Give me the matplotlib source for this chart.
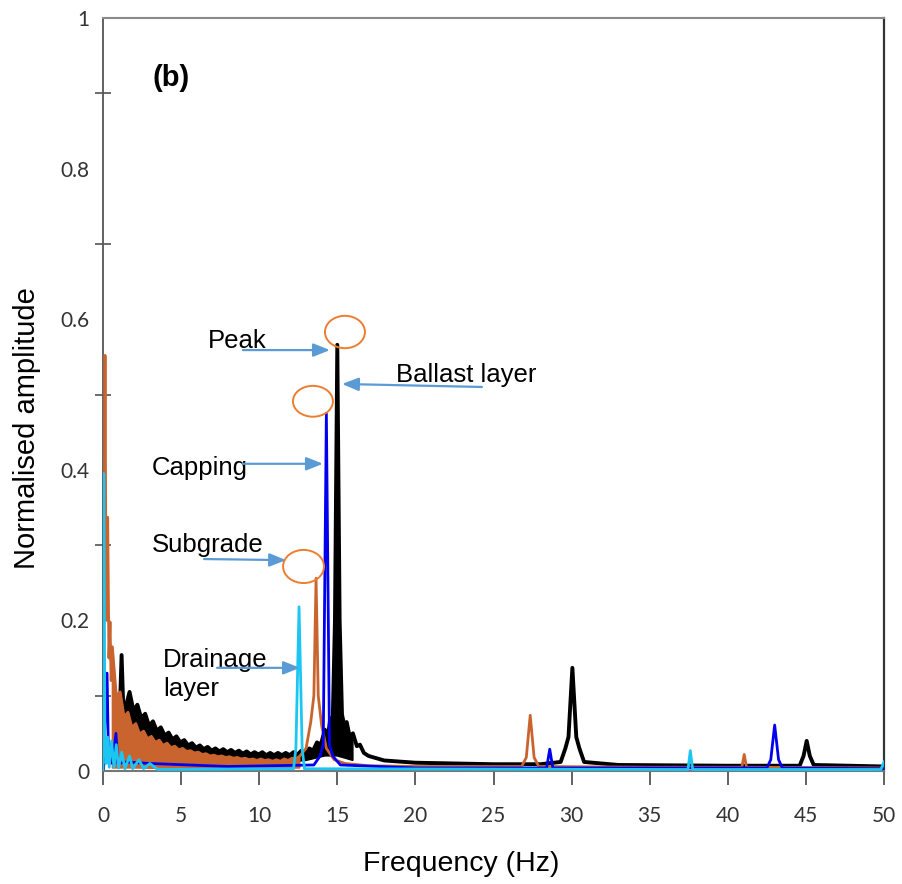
import numpy as np
import matplotlib
matplotlib.use('Agg')
import matplotlib.pyplot as plt
from matplotlib.patches import Ellipse

# ---------------- data ----------------
black_freq = [0.0, 0.03, 0.95, 1.05, 1.19, 1.32,
              1.45, 1.7, 1.95, 2.2, 2.45, 2.7, 2.95, 3.2, 3.45, 3.7, 3.95, 4.2, 4.45, 4.7,
              4.95, 5.2, 5.45, 5.7, 5.95, 6.2, 6.45, 6.7, 6.95, 7.2, 7.45, 7.7, 7.95, 8.2,
              8.45, 8.7, 8.95, 9.2, 9.45, 9.7, 9.95, 10.2, 10.45, 10.7, 10.95, 11.2, 11.45,
              11.7, 11.95, 12.2, 12.45, 12.7, 12.95, 13.2, 13.45, 13.7, 13.95, 14.2,
              14.4, 14.55, 14.7, 14.85, 15.0, 15.15, 15.3, 15.45, 15.6, 15.8, 16.0, 16.25,
              16.45, 16.7, 17.0, 18.0, 20.0, 25.0, 28.0, 29.3, 29.6, 29.8, 30.05, 30.3,
              30.5, 30.8, 33.0, 40.0, 44.6, 44.85, 45.05, 45.25, 45.5, 50.0]
black_amp = [0.0, 0.018, 0.018, 0.06, 0.154, 0.07,
             0.085, 0.105, 0.08, 0.088, 0.07, 0.076, 0.06, 0.066, 0.053, 0.058, 0.047, 0.051,
             0.042, 0.046, 0.038, 0.041, 0.034, 0.037, 0.031, 0.034, 0.029, 0.032, 0.027,
             0.030, 0.026, 0.029, 0.025, 0.028, 0.024, 0.027, 0.023, 0.026, 0.022, 0.025,
             0.022, 0.025, 0.021, 0.024, 0.021, 0.024, 0.021, 0.024, 0.021, 0.025, 0.022,
             0.027, 0.024, 0.030, 0.027, 0.038, 0.035, 0.055,
             0.045, 0.07, 0.06, 0.2, 0.566, 0.2, 0.075, 0.06, 0.065, 0.045, 0.05, 0.033,
             0.035, 0.024, 0.02, 0.014, 0.011, 0.009, 0.009, 0.012, 0.03, 0.045, 0.137,
             0.045, 0.03, 0.012, 0.008, 0.007, 0.007, 0.02, 0.04, 0.02, 0.008, 0.006]
black_floor_freq = [1.45, 2.0, 3.0, 4.0, 5.0, 6.0, 8.0, 10.0, 12.0, 13.0, 14.2, 15.0, 16.0]
black_floor_amp = [0.03, 0.022, 0.018, 0.016, 0.015, 0.014, 0.013, 0.012, 0.012, 0.014,
                   0.02, 0.02, 0.014]

orange_freq = [0.0, 0.08, 0.13, 0.2, 0.3, 0.38, 0.45, 0.52, 0.6,
               0.85, 1.1, 1.35, 1.6, 1.85, 2.1, 2.35, 2.6, 2.85, 3.1, 3.35, 3.6, 3.85, 4.1,
               4.35, 4.6, 4.85, 5.1, 5.35, 5.6, 5.85, 6.1, 6.35, 6.6, 6.85, 7.1, 7.35, 7.6,
               7.85, 8.1, 8.35, 8.6, 8.85, 9.1, 9.35, 9.6, 9.85, 10.1, 10.35, 10.6, 10.85,
               11.1, 11.35, 11.6, 11.85, 12.1, 12.35, 12.6,
               13.0, 13.3, 13.5, 13.64, 13.78, 14.0, 14.3, 14.8, 15.5, 17.0, 20.0, 26.8,
               27.1, 27.35, 27.6, 27.9, 35.0, 40.9, 41.05, 41.2, 50.0]
orange_amp = [0.0, 0.3, 0.552, 0.2, 0.337, 0.15, 0.198, 0.12, 0.165,
              0.1, 0.105, 0.072, 0.078, 0.058, 0.063, 0.049, 0.053, 0.043, 0.046, 0.038,
              0.041, 0.034, 0.037, 0.031, 0.033, 0.028, 0.030, 0.026, 0.027, 0.024, 0.025,
              0.022, 0.023, 0.020, 0.021, 0.019, 0.020, 0.018, 0.019, 0.017, 0.018, 0.016,
              0.017, 0.015, 0.016, 0.014, 0.016, 0.014, 0.015, 0.013, 0.015, 0.013, 0.016,
              0.014, 0.017, 0.016, 0.02,
              0.03, 0.065, 0.1, 0.256, 0.1, 0.06, 0.03, 0.015, 0.01, 0.007, 0.006, 0.006,
              0.018, 0.074, 0.018, 0.006, 0.005, 0.005, 0.022, 0.005, 0.004]
orange_floor_freq = [0.6, 2.0, 5.0, 10.0, 12.6]
orange_floor_amp = [0.004, 0.004, 0.003, 0.003, 0.004]

blue_freq = [0.0, 0.1, 0.26, 0.35, 0.6, 0.83, 0.95, 1.5, 3.0, 8.0, 13.5, 13.9, 14.1, 14.3,
             14.5, 14.7, 15.2, 20.0, 28.4, 28.6, 28.8, 42.5, 42.75, 43.0, 43.25, 43.5, 50.0]
blue_amp = [0.0, 0.05, 0.13, 0.02, 0.01, 0.05, 0.01, 0.012, 0.01, 0.006, 0.008, 0.02, 0.035,
            0.475, 0.035, 0.02, 0.008, 0.004, 0.004, 0.029, 0.004, 0.004, 0.015, 0.061,
            0.015, 0.004, 0.003]

cyan_freq = [0.0, 0.05, 0.12, 0.2, 0.3, 0.4, 0.55, 0.7, 0.85, 1.0, 1.2, 1.4, 1.7, 1.9, 2.3,
             2.6, 3.0, 3.5, 12.2, 12.35, 12.55, 12.75, 12.9, 37.45, 37.6, 37.75, 49.8, 50.0]
cyan_amp = [0.0, 0.395, 0.05, 0.01, 0.045, 0.005, 0.04, 0.005, 0.035, 0.004, 0.025, 0.003,
            0.02, 0.003, 0.015, 0.003, 0.01, 0.002, 0.003, 0.03, 0.218, 0.03, 0.003, 0.002,
            0.027, 0.002, 0.002, 0.012]

x_ticks = [0, 5, 10, 15, 20, 25, 30, 35, 40, 45, 50]
y_ticks = [0, 0.2, 0.4, 0.6, 0.8, 1.0]
y_tick_labels = ['0', '0.2', '0.4', '0.6', '0.8', '1']
y_minor = [0.1, 0.3, 0.5, 0.7, 0.9]

# ---------------- figure ----------------
BLACK = '#000000'
ORANGE = '#C9642F'
BLUE = '#0000EE'
CYAN = '#1CC6F2'
ARROW = '#5B9BD5'
RING = '#ED7D31'

fig = plt.figure(figsize=(9.02, 8.84), dpi=100)
ax = fig.add_axes([103 / 902, 1 - 771 / 884, (884 - 103) / 902, (771 - 18) / 884])


def band(ax, freq, amp, floor_f, floor_a, color, z):
    f = np.asarray(freq)
    a = np.asarray(amp)
    m = (f >= floor_f[0]) & (f <= floor_f[-1])
    xs = np.concatenate([f[m], np.asarray(floor_f)[::-1]])
    ys = np.concatenate([a[m], np.asarray(floor_a)[::-1]])
    ax.fill(xs, ys, color=color, lw=1.0, zorder=z)


band(ax, black_freq, black_amp, black_floor_freq, black_floor_amp, BLACK, 2)
ax.plot(black_freq, black_amp, color=BLACK, lw=2.8, zorder=2.1, solid_joinstyle='round')

band(ax, orange_freq, orange_amp, orange_floor_freq, orange_floor_amp, ORANGE, 3)
ax.plot(orange_freq, orange_amp, color=ORANGE, lw=2.0, zorder=3.1)

ax.plot(blue_freq, blue_amp, color=BLUE, lw=2.0, zorder=4)
ax.plot(cyan_freq, cyan_amp, color=CYAN, lw=2.0, zorder=5)

ax.set_xlim(0, 50)
ax.set_ylim(0, 1)

ax.set_xticks(x_ticks)
ax.set_xticklabels([str(t) for t in x_ticks])
ax.set_yticks(y_ticks)
ax.set_yticklabels(y_tick_labels)
ax.set_yticks(y_minor, minor=True)

for lab in ax.get_xticklabels() + ax.get_yticklabels():
    lab.set_fontfamily('Lato')
    lab.set_fontsize(15)
    lab.set_color('#333333')

ax.tick_params(axis='x', which='major', direction='out', length=10, width=1.3,
               color='#555555', pad=15)
ax.tick_params(axis='y', which='major', length=0, pad=10)
ax.tick_params(axis='y', which='minor', direction='inout', length=11, width=1.1,
               color='#444444')
ax.tick_params(axis='x', which='minor', length=0)

ax.spines['left'].set_color('#555555')
ax.spines['left'].set_linewidth(1.3)
ax.spines['bottom'].set_color('#777777')
ax.spines['bottom'].set_linewidth(1.5)
ax.spines['top'].set_color('#8A8A8A')
ax.spines['top'].set_linewidth(1.5)
ax.spines['right'].set_color('#333333')
ax.spines['right'].set_linewidth(1.6)

lab_font = 'Liberation Sans'
fig.text(461 / 902, 1 - 864 / 884, 'Frequency (Hz)', ha='center', va='center',
         fontsize=20.5, family=lab_font)
fig.text(27 / 902, 1 - 428 / 884, 'Normalised amplitude', ha='center', va='center',
         rotation=90, fontsize=21, family=lab_font)

ax.text(3.14, 0.92, '(b)', fontsize=21, fontweight='bold', family=lab_font,
        ha='left', va='center')

ann_fs = 18.5
ax.text(6.72, 0.571, 'Peak', fontsize=ann_fs, family=lab_font, ha='left', va='center')
ax.text(18.76, 0.526, 'Ballast layer', fontsize=ann_fs, family=lab_font, ha='left', va='center')
ax.text(3.14, 0.402, 'Capping', fontsize=ann_fs, family=lab_font, ha='left', va='center')
ax.text(3.14, 0.300, 'Subgrade', fontsize=ann_fs, family=lab_font, ha='left', va='center')
ax.text(3.84, 0.128, 'Drainage\nlayer', fontsize=ann_fs, family=lab_font, ha='left',
        va='center', linespacing=1.25)

arrow_props = dict(arrowstyle='-|>,head_length=0.5,head_width=0.2', color=ARROW, lw=1.6,
                   mutation_scale=20, shrinkA=0, shrinkB=0)
arrows = [((8.96, 0.559), (14.53, 0.559)),
          ((24.26, 0.510), (15.30, 0.514)),
          ((8.96, 0.408), (14.08, 0.408)),
          ((6.47, 0.2815), (11.72, 0.280)),
          ((7.30, 0.137), (12.61, 0.137))]
for tail, tip in arrows:
    ax.annotate('', xy=tip, xytext=tail, arrowprops=arrow_props, zorder=6)

rings = [((15.49, 0.583), 2.56, 0.043),
         ((13.44, 0.491), 2.56, 0.041),
         ((12.84, 0.2716), 2.62, 0.044)]
for c, w, h in rings:
    ax.add_patch(Ellipse(c, w, h, fill=False, edgecolor=RING, lw=1.4, zorder=7))

fig.savefig('out.png', dpi=100)
